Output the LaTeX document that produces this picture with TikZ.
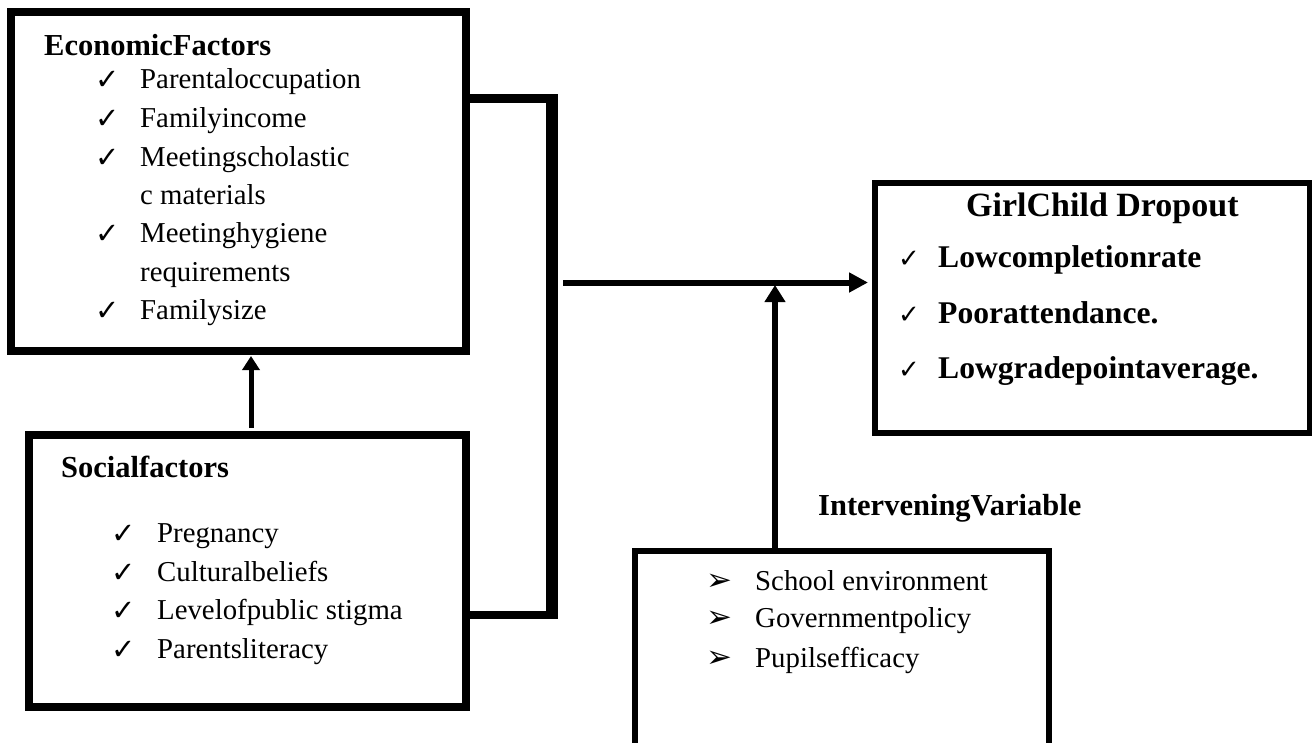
\documentclass[tikz,border=0pt]{standalone}
\usepackage{fontspec}
\setmainfont{Liberation Serif}
\newfontfamily\symf{DejaVu Sans}
\usetikzlibrary{arrows.meta}
\begin{document}
\begin{tikzpicture}[x=1pt,y=-1pt,
  box/.style={draw,line width=#1,inner sep=0pt,outer sep=0pt},
  itm/.style={anchor=base west,inner sep=0pt,font=\fontsize{28.8}{30}\selectfont},
  hd/.style={anchor=base west,inner sep=0pt,font=\fontsize{30.5}{32}\selectfont\bfseries},
  gitm/.style={anchor=base west,inner sep=0pt,font=\fontsize{31.6}{33}\selectfont\bfseries},
  ghd/.style={anchor=base west,inner sep=0pt,font=\fontsize{34}{36}\selectfont\bfseries},
  chk/.style={anchor=base west,inner sep=0pt,font=\symf\fontsize{29}{31}\selectfont},
  gchk/.style={anchor=base west,inner sep=0pt,font=\symf\fontsize{26}{28}\selectfont},
  bul/.style={anchor=base west,inner sep=0pt,font=\symf\fontsize{31}{33}\selectfont},
  conn/.style={line width=#1,line join=miter}
]
\useasboundingbox (0,0) rectangle (1312,742);
\clip (0,0) rectangle (1312,742);
% boxes
\node[box=8pt,minimum width=455pt,minimum height=339pt] (eco) at (238.5,181) {};
\node[box=8pt,minimum width=437pt,minimum height=272pt] (soc) at (247.5,571) {};
\node[box=6pt,minimum width=434.5pt,minimum height=250pt] (girl) at (1092.25,307.5) {};
\node[box=6pt,minimum width=414pt,minimum height=240pt,anchor=north] (inter) at (842,550.5) {};
% economic factors
\node[hd] (ecoh) at (44,55) {EconomicFactors};
\node[chk] (ec1) at (95,89) {✓};
\node[itm] (et1) at (140,88) {Parentaloccupation};
\node[chk] (ec2) at (95,128) {✓};
\node[itm] (et2) at (140,127) {Familyincome};
\node[chk] (ec3) at (95,167) {✓};
\node[itm] (et3) at (140,166) {Meetingscholastic};
\node[itm] (et3b) at (140,204) {c materials};
\node[chk] (ec4) at (95,243) {✓};
\node[itm] (et4) at (140,242) {Meetinghygiene};
\node[itm] (et4b) at (140,281) {requirements};
\node[chk] (ec5) at (95,320) {✓};
\node[itm] (et5) at (140,319) {Familysize};
% social factors
\node[hd] (soch) at (61,477) {Socialfactors};
\node[chk] (sc1) at (111,543) {✓};
\node[itm] (st1) at (157,542) {Pregnancy};
\node[chk] (sc2) at (111,582) {✓};
\node[itm] (st2) at (157,581) {Culturalbeliefs};
\node[chk] (sc3) at (111,620) {✓};
\node[itm] (st3) at (157,619) {Levelofpublic stigma};
\node[chk] (sc4) at (111,659) {✓};
\node[itm] (st4) at (157,658) {Parentsliteracy};
% girl child dropout
\node[ghd] (girlh) at (966,216) {GirlChild Dropout};
\node[gchk] (gc1) at (898,267) {✓};
\node[gitm] (gt1) at (938,267) {Lowcompletionrate};
\node[gchk] (gc2) at (898,323) {✓};
\node[gitm] (gt2) at (938,323) {Poorattendance.};
\node[gchk] (gc3) at (898,378) {✓};
\node[gitm] (gt3) at (938,378) {Lowgradepointaverage.};
% intervening
\node[hd] (interh) at (818,515) {InterveningVariable};
\node[bul] (ib1) at (706,590) {➢};
\node[itm] (it1) at (755,590) {School environment};
\node[bul] (ib2) at (706,627) {➢};
\node[itm] (it2) at (755,627) {Governmentpolicy};
\node[bul] (ib3) at (706,667) {➢};
\node[itm] (it3) at (755,667) {Pupilsefficacy};
% connectors
\coordinate (bt) at (552,98.5);
\coordinate (bb) at (552,615);
\draw[conn=8.5pt] (bt -| eco.east) -- (bt) -- (bb) -- (bb -| soc.east);
\draw[conn=11.5pt] ([yshift=4.25pt]bt) -- ([yshift=-4.25pt]bb);
\coordinate (hs) at (563,282.5);
\draw[line width=6pt,-{Triangle[length=19pt,width=19pt]},shorten >=7pt] (hs) -- (hs -| girl.west);
\coordinate (va) at (775,285);
\draw[line width=5.5pt,-{Triangle[length=17pt,width=20pt]}] (va |- inter.north) -- (va);
\coordinate (ua) at (251,0);
\draw[line width=5pt,-{Triangle[length=14pt,width=17pt]},shorten <=7pt,shorten >=5.5pt] (ua |- soc.north) -- (ua |- eco.south);
\end{tikzpicture}
\end{document}
